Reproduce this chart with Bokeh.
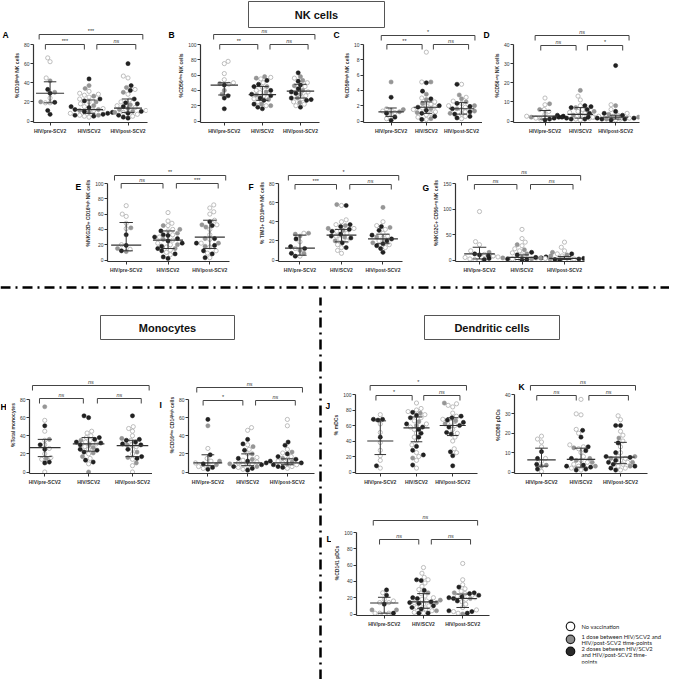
import numpy as np
from bokeh.plotting import figure
from bokeh.models import Range1d, FixedTicker, Spacer
from bokeh.layouts import row, column
from bokeh.embed import file_html
from bokeh.resources import INLINE
from bokeh.core.properties import value

categories = ["HIV/pre-SCV2", "HIV/SCV2", "HIV/post-SCV2"]

# ---------------- data (groups: pre, SCV2, post) ----------------
A_open = [[66, 62, 45, 24, 19, 19], [31, 29, 28, 27, 25, 23, 20, 18, 15, 13, 11, 8, 6, 5, 4], [47, 45, 33, 28, 22, 20, 16, 14, 11, 9, 7, 5]]
A_gray = [[42, 30, 20], [37, 34, 26, 20, 16, 12, 11, 9, 6], [35, 30, 17, 13, 12, 10, 9]]
A_black = [[33, 29, 19.5, 11, 7], [44, 23, 21, 15, 14, 12, 10, 9, 8, 7, 6, 5], [60, 37, 32, 23, 19, 18, 15, 10, 8, 6, 4, 3]]
A_median = [29, 12, 13.5]
A_q1 = [19, 8, 9]
A_q3 = [41, 22, 23]
A_sig = ["***", "***", "ns"]

B_open = [[78, 75, 62, 54, 50, 48], [57, 55, 50, 44, 40, 37, 33, 29, 25, 20], [56, 50, 45, 38, 33, 29, 25, 22, 20]]
B_gray = [[49, 40, 35], [58, 56, 45, 38, 34, 28, 22, 20], [58, 53, 46, 40, 35, 30, 24]]
B_black = [[47, 33, 30, 16], [53, 48, 45, 40, 35, 33, 30, 27, 22, 18, 16], [63, 52, 47, 42, 38, 36, 30, 28, 27, 18]]
B_median = [47, 34.5, 39]
B_q1 = [34, 27, 30]
B_q3 = [50, 45, 48]
B_sig = ["ns", "**", "ns"]

C_open = [[1.6, 1.4, 1.3, 1.1, 0.8, 0.3], [9.0, 5.1, 3.0, 2.5, 2.2, 2.0, 1.9, 1.7, 1.5, 1.2, 1.0, 0.8, 0.5, 0.2], [4.8, 3.1, 2.6, 2.3, 2.0, 1.8, 1.5, 1.2, 0.9, 0.6, 0.3]]
C_gray = [[5.1, 1.5, 1.2], [5.1, 3.5, 2.8, 2.3, 1.6, 1.1, 0.3], [3.4, 2.9, 2.5, 2.0, 1.6, 1.3, 1.0]]
C_black = [[3.1, 1.0, 0.5, 0.1], [5.0, 3.9, 2.9, 2.0, 1.8, 1.4, 1.0, 0.6, 0.2], [4.8, 2.3, 1.9, 1.6, 1.2, 0.9, 0.6, 0.4]]
C_median = [1.2, 1.8, 1.6]
C_q1 = [0.6, 1.0, 0.9]
C_q3 = [1.7, 2.5, 2.4]
C_sig = ["*", "**", "ns"]

D_open = [[12, 8.5, 6, 5, 3.5, 2.5, 1.5, 1], [13, 11, 8, 6, 5, 4.5, 4, 3, 2.5, 2, 1.5, 1, 0.5], [8.5, 6, 4, 3, 2.5, 2, 1.5, 1, 0.5]]
D_gray = [[9, 6, 2], [16, 7, 5, 3], [8, 3.5, 2.5, 2, 1]]
D_black = [[2.5, 2, 1.5, 1, 0.5], [8, 7.5, 7, 6, 4, 3, 2, 1.5, 1, 1], [29, 5, 4, 3, 2.5, 2, 1.5, 1.5, 1, 1, 0.5]]
D_median = [2.5, 3.5, 2]
D_q1 = [1, 1.5, 1]
D_q3 = [5.5, 7, 3]
D_sig = ["ns", "ns", "*"]

E_open = [[71, 60, 57, 48, 41, 20, 14], [62, 51, 48, 45, 40, 38, 33, 30, 26, 22, 20, 17, 13, 10, 7], [72, 68, 63, 60, 52, 46, 40, 33, 27, 22, 17, 12, 9, 3]]
E_gray = [[42, 15, 11], [45, 40, 35, 27, 20, 15], [46, 43, 28, 22, 18]]
E_black = [[33, 19, 12], [38, 33, 32, 30, 28, 25, 22, 18, 15, 12, 8, 4, 2], [50, 45, 28, 22, 19, 12, 8, 3]]
E_median = [19.5, 26, 30]
E_q1 = [12, 15, 15]
E_q3 = [49, 38, 52]
E_sig = ["**", "ns", "***"]

F_open = [[28, 19, 12, 4], [57, 42, 40, 37, 33, 30, 28, 25, 22, 20, 16, 13, 10, 7], [40, 36, 32, 28, 25, 23, 20, 16, 13]]
F_gray = [[28, 27, 25, 10, 7], [58, 36, 33, 31, 24, 20], [55, 34, 24, 18]]
F_black = [[22, 14, 12, 7, 4], [57, 37, 35, 32, 30, 27, 25, 23, 18, 13], [35, 31, 26, 22, 20, 17, 15, 12, 8]]
F_median = [12.5, 26, 22]
F_q1 = [5, 19, 17]
F_q3 = [26, 32, 27]
F_sig = ["*", "***", "ns"]

G_open = [[95, 36, 30, 18, 11, 5, 2, 1, 0], [60, 42, 35, 28, 22, 18, 14, 10, 8, 6, 4, 2, 1], [35, 25, 18, 12, 8, 5, 3, 2, 1, 0]]
G_gray = [[15, 8], [30, 20, 12, 8, 4, 2], [15, 10, 4, 2]]
G_black = [[12, 10, 3, 1], [15, 10, 8, 6, 4, 2, 1, 0], [12, 8, 5, 3, 2, 1, 0]]
G_median = [12, 5, 3]
G_q1 = [2, 1, 1]
G_q3 = [25, 10, 7]
G_sig = ["ns", "ns", "ns"]

H_open = [[57, 45, 35, 30, 26, 20, 16, 14, 0], [45, 43, 40, 38, 35, 33, 31, 28, 25, 20, 15, 9], [50, 48, 45, 40, 35, 30, 28, 25, 20, 14, 7, 0]]
H_gray = [[72, 36, 15], [35, 30, 27, 21, 17, 0], [37, 30, 22, 16, 10]]
H_black = [[51, 30, 25, 11, 10], [62, 60, 38, 36, 33, 32, 30, 25, 24, 22, 13, 11], [62, 36, 35, 33, 31, 30, 25, 17, 15]]
H_median = [27, 31, 29]
H_q1 = [17, 23, 17]
H_q3 = [36, 38, 35]
H_sig = ["ns", "ns", "ns"]

I_open = [[26, 15, 12, 10, 8, 6, 4], [49, 46, 30, 25, 20, 16, 13, 11, 10, 9, 8, 7, 5, 3], [58, 51, 25, 21, 17, 14, 12, 10, 8, 6, 4]]
I_gray = [[51, 12, 8], [28, 20, 14, 9, 6], [22, 15, 11, 9]]
I_black = [[58, 19, 9, 5, 3], [36, 31, 24, 15, 12, 10, 8, 6, 4, 2], [33, 29.5, 20, 17, 14, 12, 10, 8, 6, 5]]
I_median = [10, 10, 10]
I_q1 = [7, 7, 8]
I_q3 = [19, 20, 14.5]
I_sig = ["ns", "*", "ns"]

J_open = [[74, 62, 51, 38, 28, 21, 15, 5], [89, 82, 80, 78, 74, 70, 66, 62, 58, 55, 50, 45, 40, 35, 25, 20, 15, 5], [88, 86, 84, 76, 72, 68, 64, 60, 55, 50, 45, 40, 30, 25]]
J_gray = [[], [76, 65, 60, 18], [89, 66, 62]]
J_black = [[68, 68, 67, 45, 8], [77, 73, 70, 62, 58, 55, 50, 45, 33, 28, 22, 9], [72, 70, 67, 64, 60, 58, 51, 49, 26, 21, 8]]
J_median = [40, 57, 60]
J_q1 = [22.5, 39, 47]
J_q3 = [66, 71, 70]
J_sig = ["*", "*", "ns"]

K_open = [[18.5, 17, 15.5, 13, 7, 5.5, 0.3], [37.5, 30, 29.5, 22, 20, 14, 13, 12, 10, 8, 6, 5, 4, 3, 2, 1], [29, 27, 21, 19, 16, 13, 10, 8, 7, 6, 5, 4, 3, 2, 1]]
K_gray = [[3.5, 3], [12.5, 7, 6, 5, 3], [17.5, 8, 7, 5, 3]]
K_black = [[10.5, 7, 4, 1.5], [21.5, 18, 13, 11, 7, 3.5, 3, 2.5, 1.5, 1], [24, 24, 15, 10, 8, 7.5, 6, 5, 4, 3, 2, 1]]
K_median = [6.3, 6.5, 7.7]
K_q1 = [3, 2.5, 4.3]
K_q3 = [12.3, 12.3, 15.3]
K_sig = ["ns", "ns", "ns"]

L_open = [[26, 18, 16, 14, 14, 1, 1, 1, 0], [57, 50, 45, 42, 38, 34, 30, 25, 22, 20, 18, 16, 14, 12, 10, 8, 6, 4, 2, 1], [62, 42, 36, 31, 28, 25, 22, 20, 18, 15, 12, 8, 5, 3, 1]]
L_gray = [[5, 5], [26, 17, 14, 4], [26, 19, 0]]
L_black = [[29.5, 23, 12, 1], [42, 41, 29, 20, 19, 15, 14, 13, 10, 8, 6, 1, 1], [33, 26, 25, 23, 21, 20, 19, 16, 4, 3, 1]]
L_median = [13.5, 15, 19]
L_q1 = [1, 7, 8]
L_q3 = [20.5, 25, 24.5]
L_sig = ["ns", "ns", "ns"]

legend_labels = ["No vaccination",
                 "1 dose between HIV/SCV2 and", "HIV/post-SCV2 time-points",
                 "2 doses between HIV/SCV2", "and HIV/post-SCV2 time-", "points"]

FONT = "Liberation Sans"
OPEN_LINE = "#adadad"
GRAY = "#969696"
BLACK = "#222222"
INK = "#333333"
PT = 4.2


def swarm(vals, px_per_unit, s, diam=4.5):
    n = len(vals)
    order = sorted(range(n), key=lambda i: vals[i])
    placed = []
    out = [0.0] * n
    for j, i in enumerate(order):
        y = vals[i] * px_per_unit
        chosen = 0.0
        found = False
        for k in range(0, 80):
            st = k * 0.8
            cands = [0.0] if k == 0 else ([st, -st] if j % 2 == 0 else [-st, st])
            for x in cands:
                if all((x - px) ** 2 + (y - py) ** 2 >= diam * diam for px, py in placed):
                    chosen = x
                    found = True
                    break
            if found:
                break
        placed.append((chosen, y))
        out[i] = chosen / s
    return out


def blank(W, H):
    p = figure(width=W, height=H, x_range=Range1d(0, W), y_range=Range1d(0, H),
               output_backend="svg", toolbar_location=None, title=None, min_border=0,
               x_axis_type=None, y_axis_type=None)
    p.grid.visible = False
    p.outline_line_color = None
    return p


def letter_strip(W, H, letter, lx, ly):
    p = blank(W, H)
    p.text(x=[lx], y=[H - ly], text=[letter], text_align="left", text_baseline="middle",
           text_font=value(FONT), text_font_size="8.5px", text_font_style="bold", text_color="black")
    return p


def panel(letter, opn, gry, blk, med, q1, q3, sig, ymax, step, ylabel,
          W, H, bl, br, bt, bb, axis_top, cat0, s, top_off, inner_off, in_frame_letter=None):
    fw = W - bl - br
    fh = H - bt - bb
    zero_px = fh - 1.5
    dpp = ymax / (zero_px - axis_top)
    y0 = -1.5 * dpp
    y1 = ymax + axis_top * dpp
    x0 = -cat0 / s
    x1 = (fw - cat0) / s
    p = figure(width=W, height=H, x_range=Range1d(x0, x1), y_range=Range1d(y0, y1),
               output_backend="svg", toolbar_location=None, title=None,
               min_border_left=bl, min_border_right=br, min_border_top=bt, min_border_bottom=bb)
    p.grid.visible = False
    p.outline_line_color = None
    p.background_fill_color = "white"
    p.border_fill_color = "white"

    for g in range(3):
        vals = list(opn[g]) + list(gry[g]) + list(blk[g])
        offs = swarm(vals, 1.0 / dpp, s)
        n1, n2 = len(opn[g]), len(gry[g])
        xs = [g + o for o in offs]
        p.scatter(xs[:n1], vals[:n1], size=PT, marker="circle", fill_color="white",
                  line_color=OPEN_LINE, line_width=0.8)
        p.scatter(xs[n1:n1 + n2], vals[n1:n1 + n2], size=PT, marker="circle", fill_color=GRAY,
                  line_color="#8a8a8a", line_width=0.5)
        p.scatter(xs[n1 + n2:], vals[n1 + n2:], size=PT, marker="circle", fill_color=BLACK,
                  line_color="#111111", line_width=0.5)

    gx = [0, 1, 2]
    p.segment(x0=[x - 0.36 for x in gx], y0=med, x1=[x + 0.36 for x in gx], y1=med,
              line_color=INK, line_width=1.2)
    p.segment(x0=gx, y0=q1, x1=gx, y1=q3, line_color=INK, line_width=1.0)
    p.segment(x0=[x - 0.16 for x in gx], y0=q1, x1=[x + 0.16 for x in gx], y1=q1,
              line_color=INK, line_width=1.0)
    p.segment(x0=[x - 0.16 for x in gx], y0=q3, x1=[x + 0.16 for x in gx], y1=q3,
              line_color=INK, line_width=1.0)

    arm = 5 * dpp
    yt = ymax + top_off * dpp
    yi = ymax + inner_off * dpp
    spans = [(-0.28, min(2.38, x1 - 0.05), yt), (-0.12, 0.88, yi), (1.2, 2.2, yi)]
    for (xa, xb, yy), lab in zip(spans, sig):
        p.line([xa, xa, xb, xb], [yy - arm, yy, yy, yy - arm], line_color="#444444", line_width=1.0)
        p.text(x=[(xa + xb) / 2], y=[yy + 1.0 * dpp], text=[lab], text_align="center",
               text_baseline="bottom", text_font=value(FONT), text_font_size="5.5px",
               text_color=INK, text_font_style="italic" if lab == "ns" else "normal")

    if in_frame_letter is not None:
        lx, ly = in_frame_letter
        p.text(x=[x0 + lx / s], y=[y1 - ly * dpp], text=[letter], text_align="left", text_baseline="middle",
               text_font=value(FONT), text_font_size="8.5px", text_font_style="bold", text_color="black")

    p.xaxis.ticker = FixedTicker(ticks=[0, 1, 2])
    p.xaxis.major_label_overrides = {0: categories[0], 1: categories[1], 2: categories[2]}
    p.yaxis.ticker = FixedTicker(ticks=list(range(0, ymax + 1, step)))
    p.yaxis.bounds = (y0, ymax)
    for ax in p.axis:
        ax.axis_line_color = INK
        ax.axis_line_width = 1.2
        ax.major_tick_line_color = INK
        ax.major_tick_line_width = 1.0
        ax.major_tick_in = 0
        ax.major_tick_out = 3
        ax.minor_tick_line_color = None
        ax.major_label_text_font = FONT
        ax.major_label_text_font_size = "5px"
        ax.major_label_text_color = INK
    p.xaxis.major_label_text_font_style = "bold"
    p.xaxis.major_label_standoff = 2
    p.yaxis.major_label_standoff = 1
    p.yaxis.axis_label = ylabel
    p.yaxis.axis_label_text_font = FONT
    p.yaxis.axis_label_text_font_size = "5px"
    p.yaxis.axis_label_text_font_style = "bold"
    p.yaxis.axis_label_text_color = INK
    p.yaxis.axis_label_standoff = 1
    return p


def box_fig(W, H, l, r, b, t, text):
    p = blank(W, H)
    p.quad(left=[l], right=[r], bottom=[b], top=[t], fill_color="white", line_color="#555555", line_width=1)
    p.text(x=[(l + r) / 2], y=[(b + t) / 2], text=[text], text_align="center", text_baseline="middle",
           text_font=value(FONT), text_font_size="11px", text_font_style="bold", text_color="#111111")
    return p


sup_high = "\u02b0\u2071\u1d4d\u02b0"
sup_dim = "\u1d48\u2071\u1d50"
sup_neg = "\u207f\u1d49\u1d4d"

# row 1 (height 110)
sA = letter_strip(10, 110, "A", 2, 8)
pA = panel("A", A_open, A_gray, A_black, A_median, A_q1, A_q3, A_sig, 80, 20, "%CD16" + sup_high + " NK cells",
           154, 110, 20, 17, 0, 16, 16, 17, 40, 10, 0)
sB = letter_strip(11, 110, "B", 4, 8)
pB = panel("B", B_open, B_gray, B_black, B_median, B_q1, B_q3, B_sig, 100, 20, "%CD56" + sup_dim + " NK cells",
           157, 110, 19, 13, 0, 16, 16, 25, 40, 10, 0)
sC = letter_strip(8, 110, "C", 1, 8)
pC = panel("C", C_open, C_gray, C_black, C_median, C_q1, C_q3, C_sig, 10, 2, "%CD56" + sup_high + " NK cells",
           142, 110, 17, 0, 0, 16, 16, 29, 37, 9, 0)
sD = letter_strip(8, 110, "D", 1, 8)
pD = panel("D", D_open, D_gray, D_black, D_median, D_q1, D_q3, D_sig, 40, 10, "%CD56" + sup_neg + " NK cells",
           163, 110, 17, 14, 0, 16, 16, 33, 37, 9, -1)
# row 2 (height 139)
sE = letter_strip(10, 139, "E", 3, 32)
pE = panel("E", E_open, E_gray, E_black, E_median, E_q1, E_q3, E_sig, 100, 20, "%NKG2D+ CD16" + sup_high + " NK cells",
           163, 139, 23, 16, 26, 16, 19, 19, 42.5, 8, 0)
sF = letter_strip(10, 139, "F", 3, 32)
pF = panel("F", F_open, F_gray, F_black, F_median, F_q1, F_q3, F_sig, 80, 20, "% TIM3+ CD16" + sup_high + " NK cells",
           164, 139, 20, 17, 26, 16, 19, 22, 42.5, 8, -1)
sG = letter_strip(11, 139, "G", 3, 33)
pG = panel("G", G_open, G_gray, G_black, G_median, G_q1, G_q3, G_sig, 150, 50, "%NKG2C+ CD56" + sup_neg + " NK cells",
           170, 139, 25, 16, 26, 16, 19, 24, 42.5, 8, -1)
# row 3 (height 142)
sH = letter_strip(6, 142, "H", 0, 44)
pH = panel("H", H_open, H_gray, H_black, H_median, H_q1, H_q3, H_sig, 80, 20, "%Total monocytes",
           146, 142, 17, 0, 29, 16, 23, 16, 46, 14, 1)
sI = letter_strip(13, 142, "I", 7, 42)
pI = panel("I", I_open, I_gray, I_black, I_median, I_q1, I_q3, I_sig, 80, 20, "%CD16" + sup_dim + " CD14" + sup_high + " cells",
           151, 142, 19, 2, 29, 16, 23, 20, 41, 12, -1)
sJ = letter_strip(6, 142, "J", 1, 43)
pJ = panel("J", J_open, J_gray, J_black, J_median, J_q1, J_q3, J_sig, 100, 20, "% mDCs",
           159, 142, 19, 12, 29, 16, 18, 26, 38, 9, -1)
pK = panel("K", K_open, K_gray, K_black, K_median, K_q1, K_q3, K_sig, 40, 10, "%CD80 pDCs",
           168, 142, 25, 10, 29, 16, 18, 27, 39.5, 9, -1, in_frame_letter=(4, 10))
# row 4
sL = letter_strip(7, 142, "L", 2, 39)
pL = panel("L", L_open, L_gray, L_black, L_median, L_q1, L_q3, L_sig, 100, 20, "%CD141 pDCs",
           161, 142, 19, 3, 21, 16, 22, 29, 41, 12, -7)

# decorations
nk_hdr = box_fig(669, 28, 248, 384, 1, 27, "NK cells")
mono_hdr = box_fig(316, 50, 100, 234, 8, 32, "Monocytes")
dc_hdr = box_fig(345, 50, 100, 235, 8, 32, "Dendritic cells")

dash = blank(669, 20)
dash.line([0, 669], [10, 10], line_color="black", line_width=2.5, line_dash="10 5 2 5")

vline = blank(8, 382)
vline.line([4, 4], [0, 387], line_color="black", line_width=2.5, line_dash="10 5 2 5")

leg = blank(177, 190)
leg.scatter([78], [46], size=8.5, marker="circle", fill_color="white", line_color="#222222", line_width=1.2)
leg.scatter([78], [30], size=8.5, marker="circle", fill_color="#8c8c8c", line_color="#222222", line_width=1.2)
leg.scatter([78], [15], size=8.5, marker="circle", fill_color="#2a2a2a", line_color="#111111", line_width=1.2)
leg.text(x=[89] * 6, y=[46, 33.5, 25.5, 19, 11, 3], text=legend_labels, text_baseline="middle",
         text_align="left", text_font=value("Lato"), text_font_size="5.8px", text_color="#222222")

row1 = row(sA, pA, sB, pB, sC, pC, sD, pD)
row2 = row(Spacer(width=72, height=139), sE, pE, sF, pF, sG, pG)
left_col = column(mono_hdr, row(sH, pH, sI, pI))
right_col = column(dc_hdr, row(sJ, pJ, pK), row(sL, pL, leg))
bottom = row(left_col, vline, right_col)
layout = column(nk_hdr, row1, row2, dash, bottom)

open("out.html", "w").write(file_html(layout, INLINE))
